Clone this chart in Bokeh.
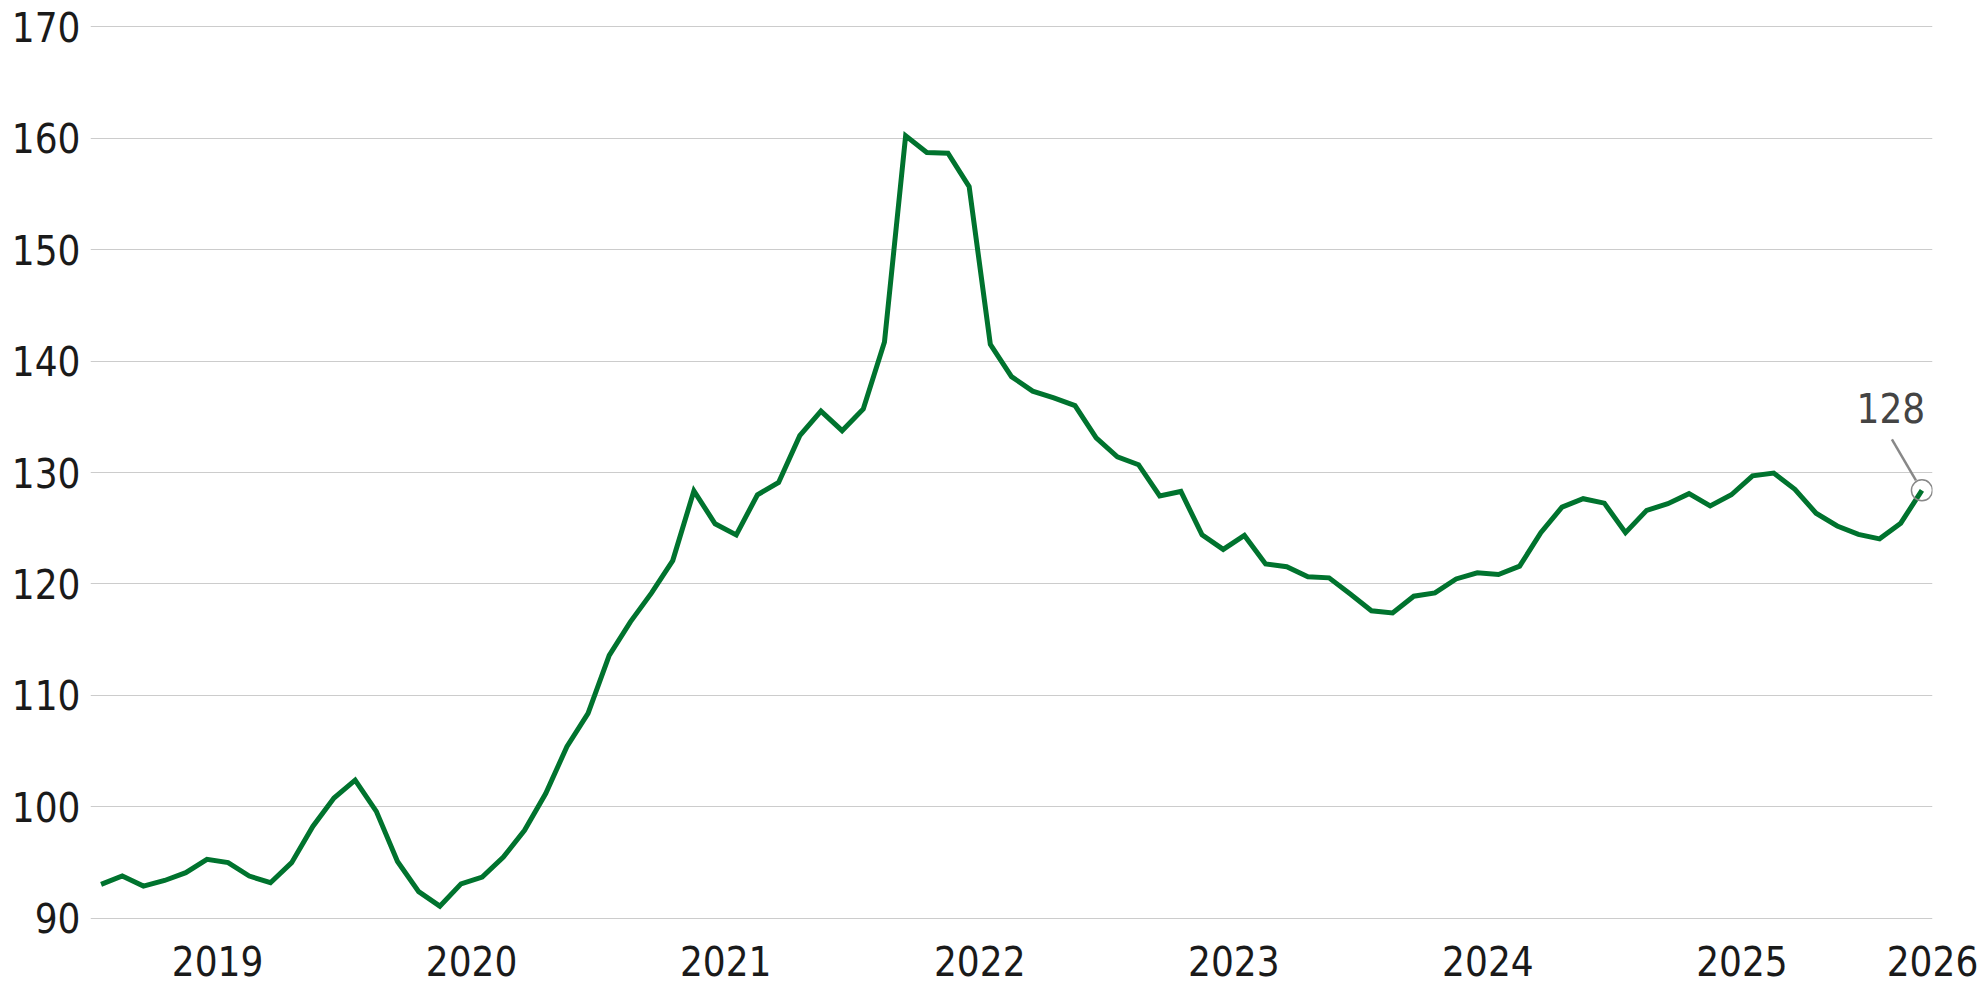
from bokeh.plotting import figure
from bokeh.models import Range1d, FixedTicker, ColumnDataSource
from bokeh.core.properties import value
from bokeh.embed import file_html
from bokeh.resources import INLINE

# ---- data (monthly, Jul 2018 .. Sep 2025) ----
start_year, start_month = 2018, 7
values = [
    93.05, 93.8, 92.9, 93.4, 94.1, 95.3, 95.0, 93.8, 93.2, 95.0, 98.25, 100.8,
    102.4, 99.6, 95.1, 92.4, 91.1, 93.1, 93.7, 95.5, 97.9, 101.2, 105.4, 108.4,
    113.6, 116.6, 119.2, 122.1, 128.35, 125.4, 124.4, 128.0, 129.1, 133.3, 135.5, 133.75,
    135.7, 141.7, 160.2, 158.7, 158.65, 155.65, 141.5, 138.6, 137.3, 136.7, 136.0, 133.1,
    131.4, 130.7, 127.9, 128.3, 124.4, 123.1, 124.35, 121.8, 121.55, 120.65, 120.55, 119.1,
    117.6, 117.4, 118.9, 119.2, 120.45, 121.0, 120.85, 121.6, 124.6, 126.9, 127.65, 127.25,
    124.6, 126.6, 127.2, 128.1, 127.0, 128.0, 129.7, 129.95, 128.5, 126.35, 125.2, 124.45,
    124.05, 125.45, 128.4,
]
year_ticks = [2019, 2020, 2021, 2022, 2023, 2024, 2025]
y_ticks = [90, 100, 110, 120, 130, 140, 150, 160, 170]
last_tick_label = "2026"

# mid-month positions in fractional years
xs = []
for i in range(len(values)):
    m = start_month - 1 + i
    y = start_year + m // 12
    mm = m % 12
    xs.append(y + (mm + 0.5) / 12.0)

x_start = start_year + (start_month - 1) / 12.0
x_end = xs[-1] + 0.5 / 12.0
y_start, y_end = 89.9, 170.1   # tiny pad so the outer grid lines stay visible

FONT = "DejaVu Sans Condensed, Liberation Sans Narrow, sans-serif"
GREEN = "#00732E"

fw, fh = 1842, 894
p = figure(frame_width=fw, frame_height=fh,
           min_border_left=90, min_border_right=46, min_border_top=25, min_border_bottom=66,
           x_range=Range1d(x_start, x_end), y_range=Range1d(y_start, y_end),
           output_backend="svg", toolbar_location=None)
p.outline_line_color = None
p.background_fill_color = "white"
p.border_fill_color = "white"

# axes
p.xaxis.ticker = FixedTicker(ticks=year_ticks + [x_end])
p.xaxis.major_label_overrides = {x_end: last_tick_label}
p.yaxis.ticker = FixedTicker(ticks=y_ticks)
for ax in (p.xaxis[0], p.yaxis[0]):
    ax.axis_line_color = None
    ax.major_tick_line_color = None
    ax.minor_tick_line_color = None
    ax.major_tick_in = 0
    ax.major_tick_out = 0
    ax.major_label_text_font = FONT
    ax.major_label_text_font_size = "40px"
    ax.major_label_text_color = "#1a1a1a"
p.yaxis.major_label_standoff = 10
p.xaxis.major_label_standoff = 26

p.xgrid.grid_line_color = None
p.ygrid.grid_line_color = "#cccccc"
p.ygrid.grid_line_width = 1

src = ColumnDataSource(dict(x=xs, y=values))
p.line("x", "y", source=src, line_color=GREEN, line_width=5, line_join="miter")

# end annotation
px_x = fw / (x_end - x_start)
px_y = fh / (y_end - y_start)
lx, ly = xs[-1], values[-1]
p.scatter([lx], [ly], size=21, fill_color=None, line_color="#888888", line_width=1.5)
p.segment(x0=[lx - 30 / px_x], y0=[ly + 51 / px_y], x1=[lx - 6 / px_x], y1=[ly + 10 / px_y],
          line_color="#888888", line_width=2.5)
p.text(x=[lx], y=[ly], text=[f"{round(ly)}"], x_offset=-31, y_offset=-82,
       text_align="center", text_baseline="middle",
       text_font=value(FONT), text_font_size="40px", text_color="#444444")

open("out.html", "w").write(file_html(p, INLINE))
